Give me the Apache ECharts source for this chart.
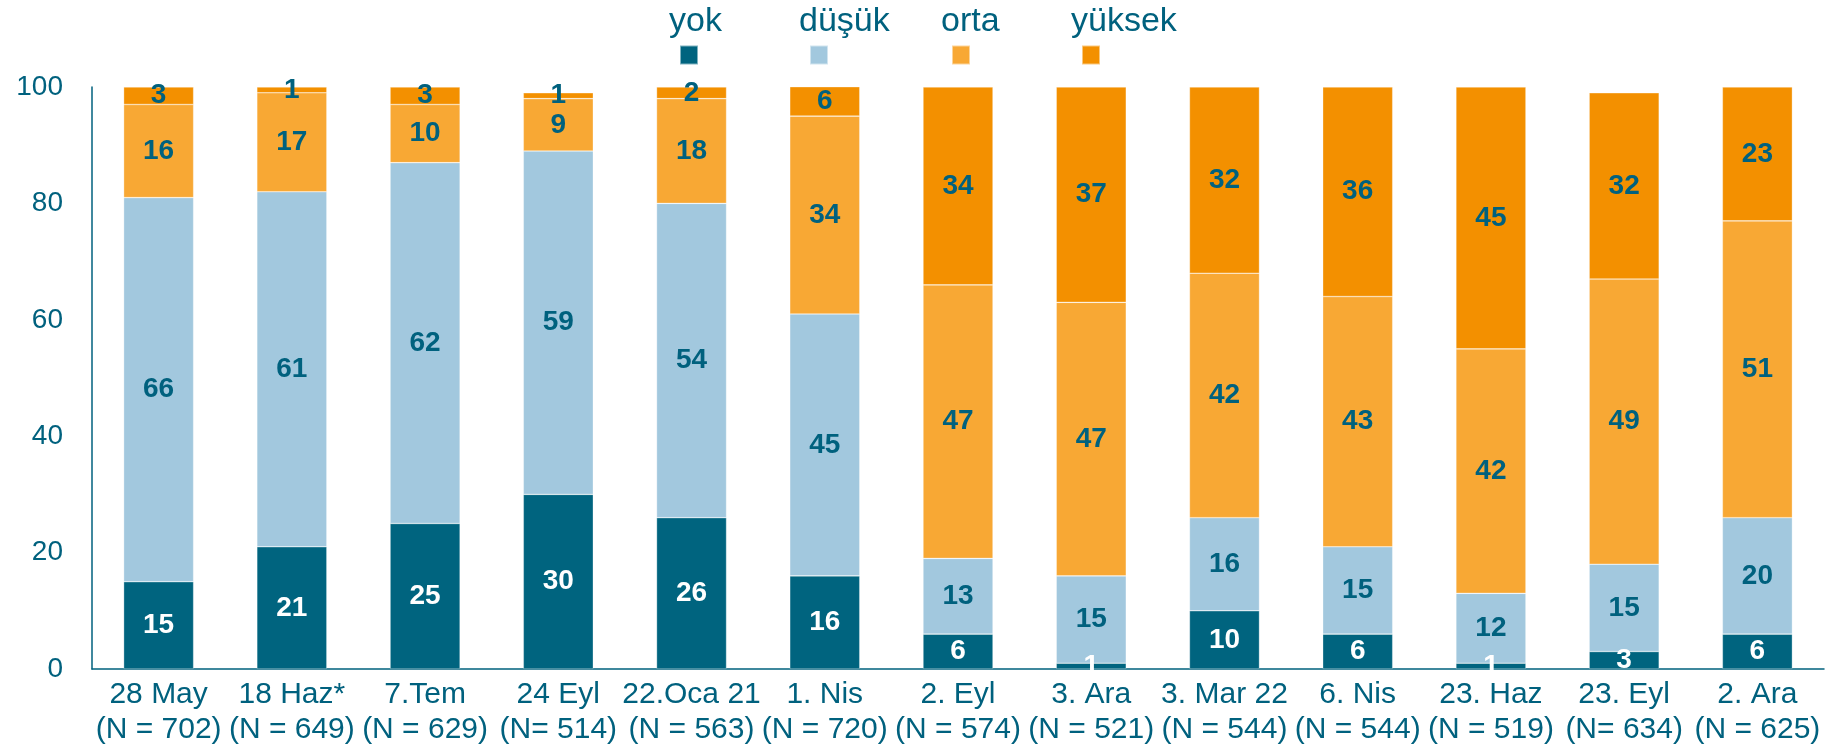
<!DOCTYPE html>
<html>
<head>
<meta charset="utf-8">
<script src="https://cdn.jsdelivr.net/npm/echarts@6/dist/echarts.min.js"></script>
<style>
html,body{margin:0;padding:0;background:#fff;}
#chart{width:1828px;height:749px;}
</style>
</head>
<body>
<div id="chart"></div>
<script>
const categories = ['28 May\n(N = 702)','18 Haz*\n(N = 649)','7.Tem\n(N = 629)','24 Eyl\n(N= 514)','22.Oca 21\n(N = 563)','1. Nis\n(N = 720)','2. Eyl\n(N = 574)','3. Ara\n(N = 521)','3. Mar 22\n(N = 544)','6. Nis\n(N = 544)','23. Haz\n(N = 519)','23. Eyl\n(N= 634)','2. Ara\n(N = 625)'];
const seriesNames = ['yok','düşük','orta','yüksek'];
const yok    = [15,21,25,30,26,16, 6, 1,10, 6, 1, 3, 6];
const dusuk  = [66,61,62,59,54,45,13,15,16,15,12,15,20];
const orta   = [16,17,10, 9,18,34,47,47,42,43,42,49,51];
const yuksek = [ 3, 1, 3, 1, 2, 6,34,37,32,36,45,32,23];
const yTicks = [0,20,40,60,80,100];

const TEAL = '#00617E';
const colors = ['#00647F','#A2C8DE','#F8A834','#F39000'];
const labelColors = ['#ffffff', TEAL, TEAL, TEAL];
const FONT = '"Liberation Sans", Arial, sans-serif';
const dataArr = [yok, dusuk, orta, yuksek];

const legendLefts = [669, 799, 941, 1071];

const chart = echarts.init(document.getElementById('chart'), null, {renderer:'canvas'});
const option = {
  animation: false,
  backgroundColor: '#fff',
  textStyle: {fontFamily: FONT},
  legend: seriesNames.map((n, i) => ({
    data: [n],
    left: legendLefts[i],
    top: -11,
    padding: 0,
    icon: 'rect',
    itemWidth: 18,
    itemHeight: 19,
    selectedMode: false,
    formatter: name => name + '\n ',
    textStyle: {fontFamily: FONT, fontSize: 34, color: TEAL, lineHeight: 66, padding: [0,0,0,-34]}
  })),
  grid: {left: 92, right: 4, top: 87, bottom: 80, containLabel: false},
  xAxis: {
    type: 'category',
    data: categories,
    axisLine: {show: true, lineStyle: {color: TEAL, width: 1.5}},
    axisTick: {show: false},
    axisLabel: {fontFamily: FONT, fontSize: 30, color: TEAL, lineHeight: 35, margin: 8, interval: 0}
  },
  yAxis: {
    type: 'value',
    min: yTicks[0],
    max: yTicks[yTicks.length-1],
    interval: yTicks[1]-yTicks[0],
    axisLine: {show: true, lineStyle: {color: TEAL, width: 1.5}},
    axisTick: {show: false},
    splitLine: {show: false},
    axisLabel: {fontFamily: FONT, fontSize: 28, color: TEAL, margin: 29}
  },
  series: seriesNames.map((n, i) => ({
    name: n,
    type: 'bar',
    stack: 'total',
    barWidth: 70,
    data: dataArr[i],
    itemStyle: {color: colors[i], borderColor: 'rgba(255,255,255,0.5)', borderWidth: 0.6},
    label: {
      show: true,
      position: 'inside',
      fontFamily: FONT,
      fontSize: 28,
      fontWeight: 'bold',
      color: labelColors[i]
    }
  }))
};
chart.setOption(option);
</script>
</body>
</html>
